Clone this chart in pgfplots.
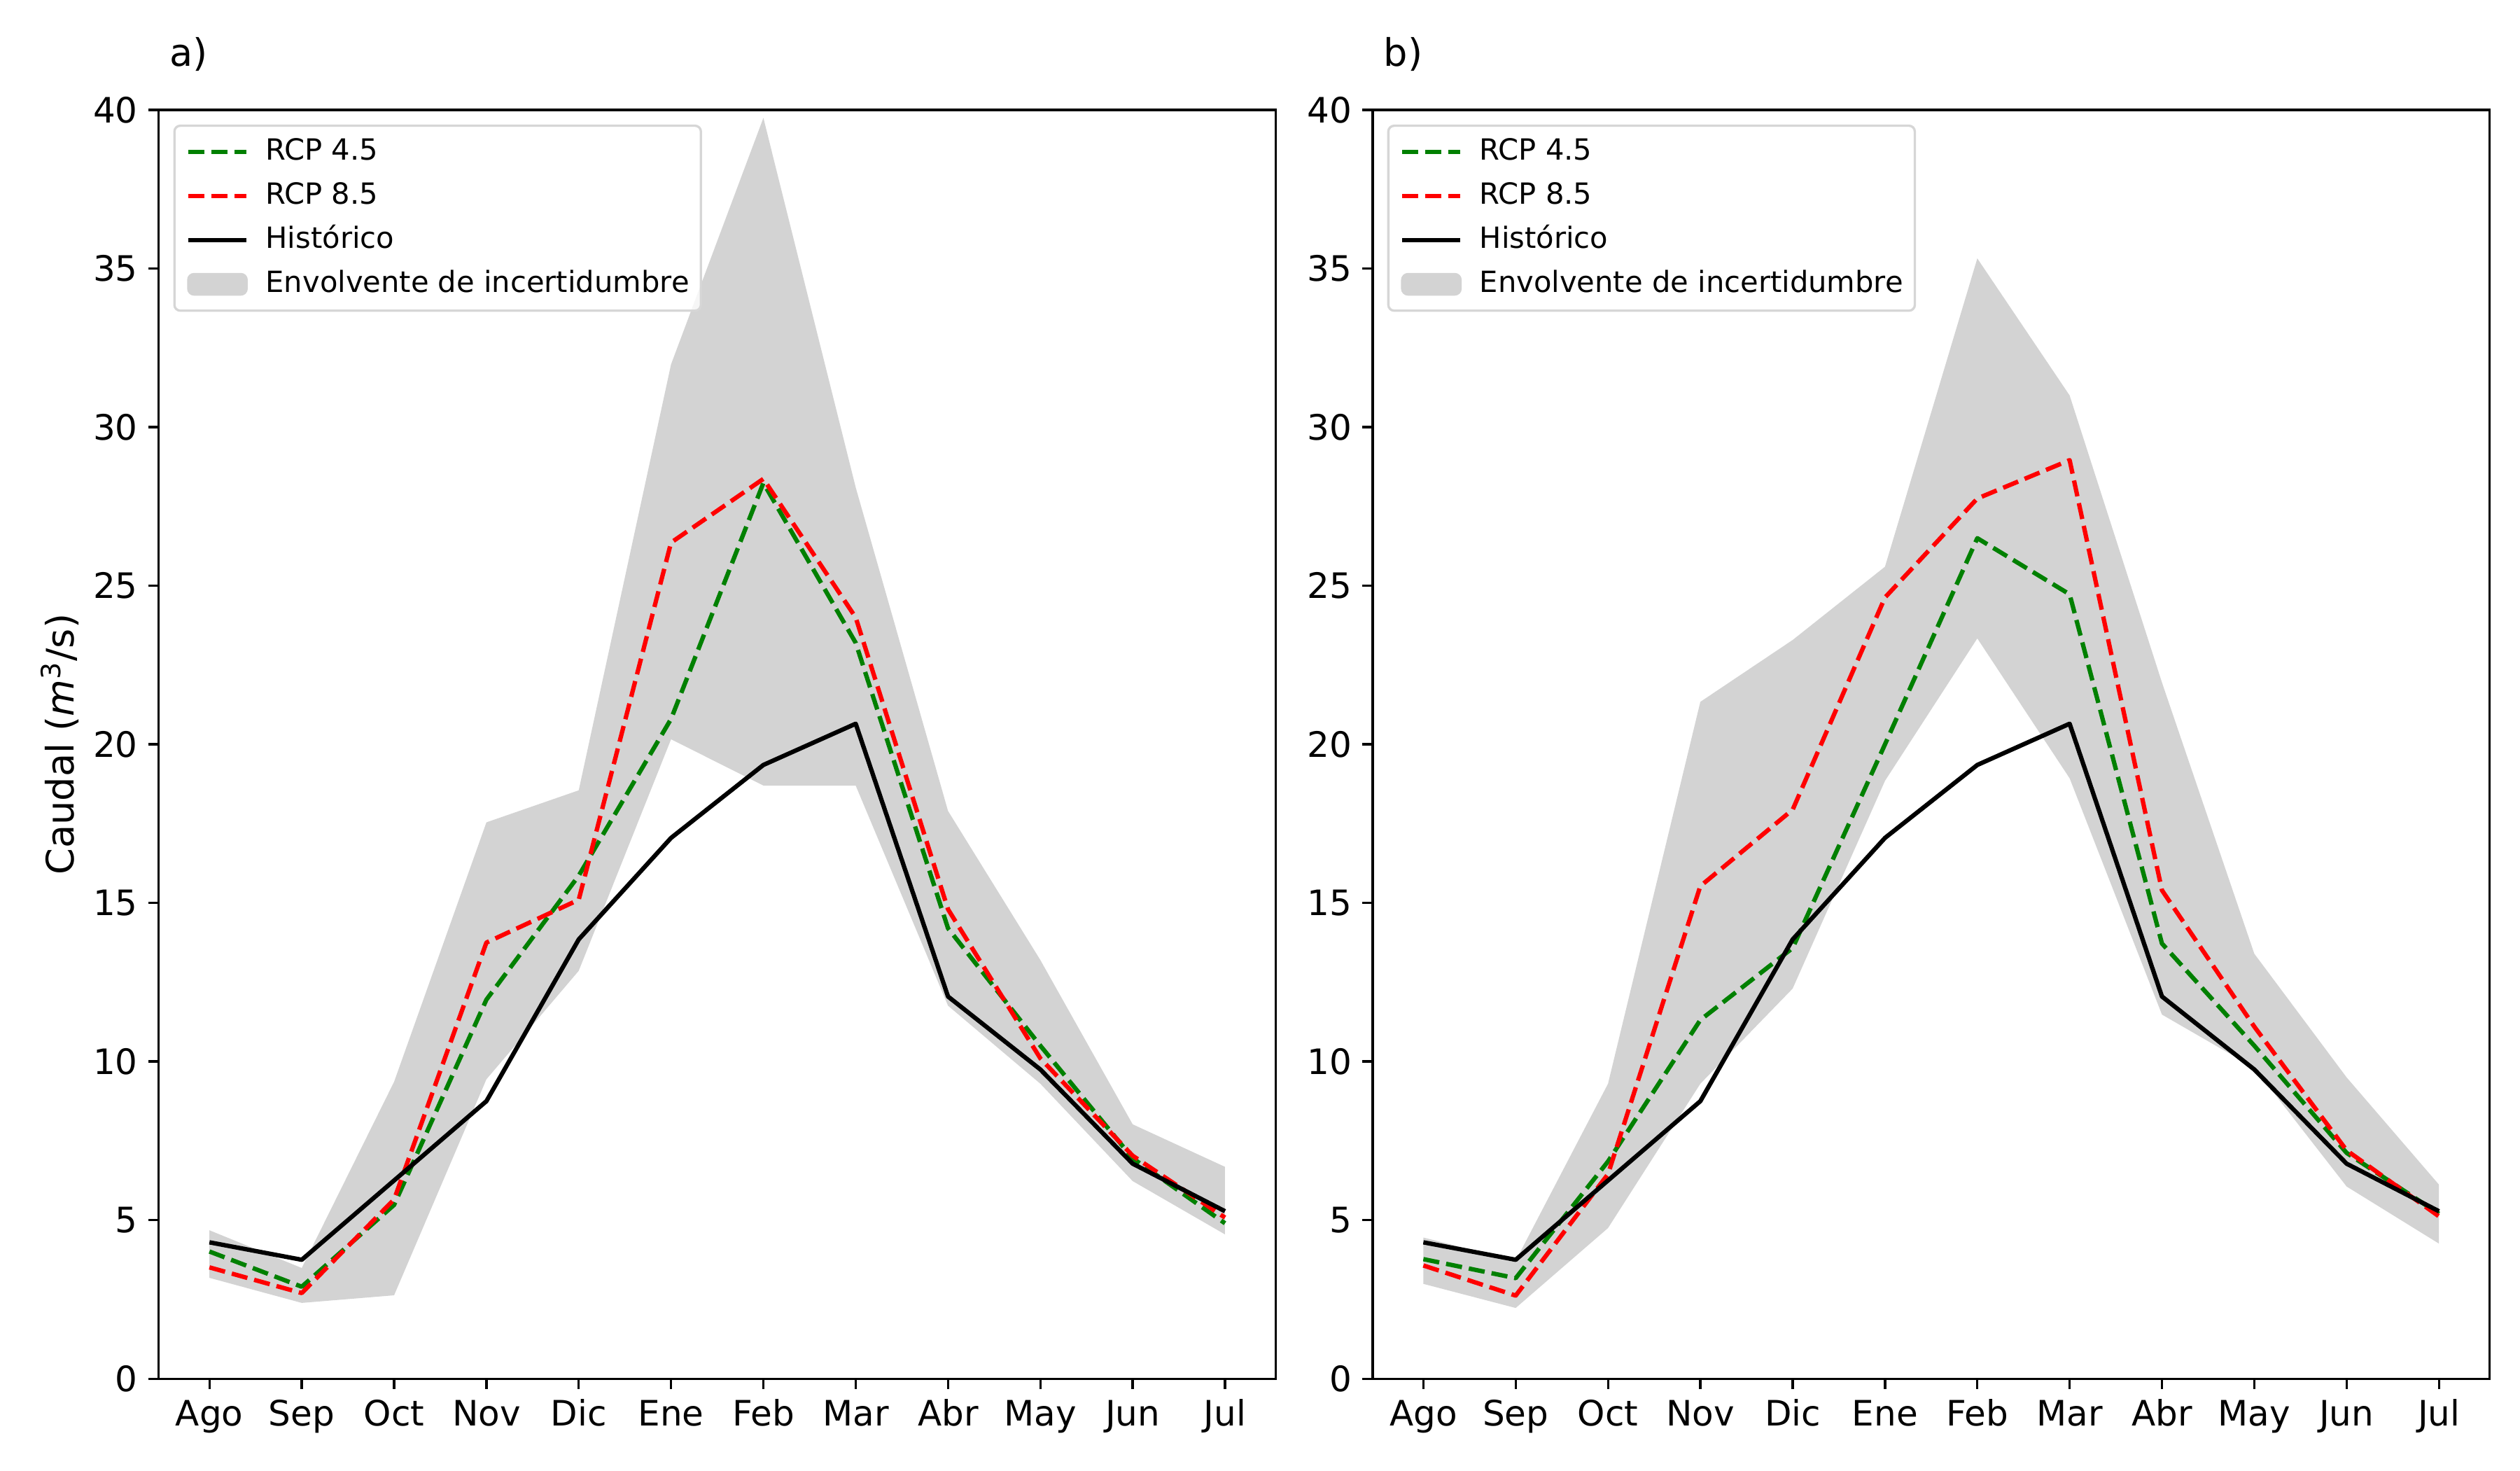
\documentclass[border=0pt]{standalone}
\usepackage{fontspec}
\setmainfont{DejaVu Sans}
\usepackage{pgfplots}
\usepackage{pgfplotstable}
\pgfplotsset{compat=1.18}
\usepgfplotslibrary{fillbetween}
\definecolor{g45}{RGB}{0,128,0}
\definecolor{r85}{RGB}{255,0,0}
\definecolor{env}{RGB}{211,211,211}
\definecolor{lframe}{RGB}{214,214,214}

\pgfplotstableread{
x hist g45 r85 up lo
0 4.30 4.01 3.51 4.68 3.18
1 3.75 2.90 2.70 3.49 2.39
2 6.25 5.48 5.65 9.36 2.63
3 8.75 11.95 13.75 17.54 9.44
4 13.85 15.86 15.10 18.55 12.86
5 17.05 20.80 26.36 31.98 20.16
6 19.35 28.24 28.37 39.75 18.70
7 20.65 23.20 24.00 28.10 18.70
8 12.05 14.20 14.80 17.90 11.76
9 9.75 10.50 10.10 13.20 9.30
10 6.78 6.95 7.03 8.02 6.23
11 5.28 4.90 5.08 6.68 4.55
}\dataA

\pgfplotstableread{
x hist g45 r85 up lo
0 4.30 3.77 3.57 4.45 2.99
1 3.75 3.17 2.62 3.72 2.23
2 6.25 6.85 6.45 9.30 4.75
3 8.75 11.31 15.53 21.34 9.30
4 13.85 13.58 17.94 23.29 12.30
5 17.05 20.00 24.63 25.60 18.85
6 19.35 26.50 27.75 35.32 23.34
7 20.65 24.73 28.96 31.00 18.93
8 12.05 13.72 15.40 21.95 11.48
9 9.75 10.50 11.10 13.40 9.80
10 6.78 7.12 7.20 9.50 6.06
11 5.28 5.20 5.12 6.12 4.26
}\dataB

\pgfplotsset{
  myaxis/.style={
    scale only axis, width=383pt, height=434.9pt,
    anchor=south west,
    xmin=-0.55, xmax=11.55, ymin=0, ymax=40,
    xtick={0,...,11},
    xticklabels={Ago,Sep,Oct,Nov,Dic,Ene,Feb,Mar,Abr,May,Jun,Jul},
    ytick={0,5,...,40},
    tick align=outside, tick pos=left,
    major tick length=3.5pt,
    every tick/.style={black, line width=0.8pt},
    axis line style={line width=0.8pt, black},
    /pgf/number format/assume math mode=true,
    ticklabel style={font=\fontsize{12}{14}\selectfont},
    yticklabel style={anchor=base east, inner sep=0pt, xshift=-3.5pt, yshift=-4.38pt},
    xticklabel style={anchor=base, inner sep=0pt, yshift=-12.7pt},
    title style={at={(axis description cs:0,1)}, anchor=base west, inner sep=0pt,
      xshift=3.6pt, yshift=8.9pt, font=\fontsize{13}{15}\selectfont},
    legend cell align=left,
    legend style={at={(axis description cs:0,1)}, anchor=north west, xshift=5pt, yshift=-5pt,
      draw=lframe, line width=0.8pt, rounded corners=2pt,
      fill=white, fill opacity=0.8, text opacity=1,
      font=\fontsize{10}{12}\selectfont,
      inner xsep=4pt, inner ysep=4pt, row sep=5pt, column sep=5.8pt,
      nodes={inner sep=0pt, text height=7.7pt, text depth=2.4pt}},
  },
  dashedline/.style={line width=1.5pt, line join=round, dash pattern=on 5.55pt off 2.4pt},
}

\newcommand{\legendstuff}{%
  \addlegendimage{legend image code/.code={\draw[g45, line width=1.5pt, dash pattern=on 5.55pt off 2.4pt] (0pt,0pt) -- (20pt,0pt);}}
  \addlegendentry{RCP 4.5}
  \addlegendimage{legend image code/.code={\draw[r85, line width=1.5pt, dash pattern=on 5.55pt off 2.4pt] (0pt,0pt) -- (20pt,0pt);}}
  \addlegendentry{RCP 8.5}
  \addlegendimage{legend image code/.code={\draw[black, line width=1.5pt] (0pt,0pt) -- (20pt,0pt);}}
  \addlegendentry{Histórico}
  \addlegendimage{legend image code/.code={\fill[env, fill opacity=1] (0pt,-3.5pt) rectangle (20pt,3.5pt);}}
  \addlegendentry{Envolvente de incertidumbre}
}

\begin{document}
\begin{tikzpicture}
\path (0,0) rectangle (864pt,504pt);

\begin{axis}[myaxis, at={(54.4pt,31.4pt)}, title={a)},
  ylabel={Caudal (\textit{m}\textsuperscript{3}/s)},
  ylabel style={at={(axis description cs:-0.0762,0.5)}, anchor=base, font=\fontsize{13}{15}\selectfont}]
  \addplot[draw=none, name path=upA, forget plot] table[x=x, y=up] {\dataA};
  \addplot[draw=none, name path=loA, forget plot] table[x=x, y=lo] {\dataA};
  \addplot[fill=env, draw=none, forget plot] fill between[of=upA and loA];
  \addplot[g45, dashedline, forget plot] table[x=x, y=g45] {\dataA};
  \addplot[r85, dashedline, forget plot] table[x=x, y=r85] {\dataA};
  \addplot[black, line width=1.5pt, line join=round, forget plot] table[x=x, y=hist] {\dataA};
  \legendstuff
\end{axis}

\begin{axis}[myaxis, at={(470.6pt,31.4pt)}, title={b)}]
  \addplot[draw=none, name path=upB, forget plot] table[x=x, y=up] {\dataB};
  \addplot[draw=none, name path=loB, forget plot] table[x=x, y=lo] {\dataB};
  \addplot[fill=env, draw=none, forget plot] fill between[of=upB and loB];
  \addplot[g45, dashedline, forget plot] table[x=x, y=g45] {\dataB};
  \addplot[r85, dashedline, forget plot] table[x=x, y=r85] {\dataB};
  \addplot[black, line width=1.5pt, line join=round, forget plot] table[x=x, y=hist] {\dataB};
  \legendstuff
\end{axis}
\end{tikzpicture}
\end{document}
